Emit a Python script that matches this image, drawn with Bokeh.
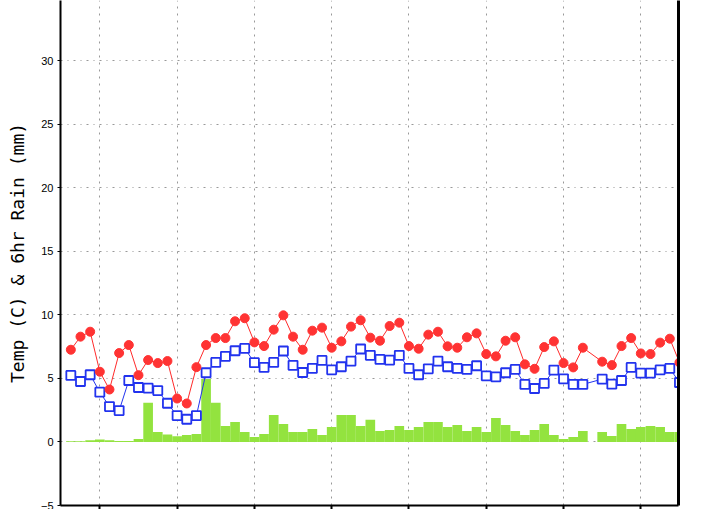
from bokeh.plotting import figure
from bokeh.models import Range1d, FixedTicker, LinearAxis
from bokeh.embed import file_html
from bokeh.resources import INLINE

# 3-hourly steps (index), one missing observation at step 54
steps = list(range(64))

temp = [7.26, 8.29, 8.68, 5.53, 4.13, 7.0, 7.63, 5.26, 6.45, 6.21, 6.37, 3.42, 3.03, 5.89, 7.63, 8.18,
        8.18, 9.5, 9.74, 7.84, 7.55, 8.84, 9.97, 8.29, 7.26, 8.76, 9.0, 7.42, 7.92, 9.08, 9.58, 8.21,
        7.97, 9.13, 9.39, 7.55, 7.34, 8.45, 8.68, 7.53, 7.42, 8.24, 8.55, 6.92, 6.74, 7.97, 8.24, 6.11,
        5.76, 7.47, 7.92, 6.21, 5.87, 7.42, None, 6.32, 6.05, 7.55, 8.18, 6.97, 6.92, 7.82, 8.13, 6.26]

dewpoint = [5.24, 4.76, 5.29, 3.92, 2.79, 2.47, 4.84, 4.29, 4.24, 4.05, 3.05, 2.08, 1.79, 2.08, 5.45, 6.26,
            6.74, 7.18, 7.37, 6.24, 5.87, 6.26, 7.16, 6.03, 5.47, 5.79, 6.42, 5.68, 5.92, 6.37, 7.32, 6.82,
            6.5, 6.45, 6.82, 5.79, 5.29, 5.76, 6.37, 5.92, 5.79, 5.71, 6.0, 5.21, 5.13, 5.45, 5.71, 4.53,
            4.21, 4.61, 5.66, 4.97, 4.53, 4.53, None, 4.95, 4.55, 4.84, 5.87, 5.42, 5.42, 5.68, 5.79, 4.68]

rain6h = [0.05, 0.05, 0.13, 0.2, 0.13, 0.08, 0.08, 0.24, 3.08, 0.79, 0.58, 0.45, 0.55, 0.63, 4.95, 3.08,
          1.26, 1.58, 0.79, 0.39, 0.63, 2.13, 1.42, 0.79, 0.79, 1.03, 0.55, 1.18, 2.13, 2.13, 1.26, 1.74,
          0.87, 0.95, 1.26, 0.95, 1.18, 1.58, 1.58, 1.18, 1.34, 0.87, 1.18, 0.79, 1.89, 1.34, 0.87, 0.55,
          0.95, 1.42, 0.55, 0.24, 0.39, 0.87, None, 0.79, 0.47, 1.42, 1.03, 1.18, 1.26, 1.18, 0.79, 0.79]

y_ticks = [-5, 0, 5, 10, 15, 20, 25, 30, 35]
day_ticks = [3, 11, 19, 27, 35, 43, 51, 59]


def valid(xs, ys):
    pairs = [(x, y) for x, y in zip(xs, ys) if y is not None]
    return [q[0] for q in pairs], [q[1] for q in pairs]


p = figure(width=719, height=509, output_backend="svg", toolbar_location=None,
           x_range=Range1d(-1.07, 62.9), y_range=Range1d(-5, 34.75),
           min_border_left=60, min_border_right=41, min_border_top=0, min_border_bottom=4)

p.outline_line_color = None
p.background_fill_color = "white"
p.border_fill_color = "white"

# grid
p.xgrid.grid_line_color = "#999999"
p.xgrid.grid_line_dash = "2 5"
p.ygrid.grid_line_color = "#999999"
p.ygrid.grid_line_dash = "2 5 1 5"
p.xgrid.ticker = FixedTicker(ticks=day_ticks)
p.ygrid.ticker = FixedTicker(ticks=y_ticks)

# y axis
ya = p.yaxis[0]
ya.ticker = FixedTicker(ticks=y_ticks)
ya.axis_label = "Temp (C) & 6hr Rain (mm)"
ya.axis_label_text_font = "DejaVu Sans Mono"
ya.axis_label_text_font_size = "18px"
ya.axis_label_text_font_style = "normal"
ya.axis_label_text_color = "black"
ya.axis_label_standoff = 10
ya.major_label_text_font = "Liberation Sans"
ya.major_label_text_font_size = "11px"
ya.major_label_text_color = "black"
ya.major_label_standoff = 4
ya.axis_line_width = 2
ya.axis_line_color = "black"
ya.major_tick_out = 3
ya.major_tick_in = 0
ya.major_tick_line_color = "black"
ya.minor_tick_line_color = None

# x axis (tick labels fall outside the picture in the reference)
xa = p.xaxis[0]
xa.ticker = FixedTicker(ticks=day_ticks)
xa.major_label_overrides = {t: "" for t in day_ticks}
xa.major_label_standoff = 0
xa.axis_line_width = 2
xa.axis_line_color = "black"
xa.major_tick_out = 4
xa.major_tick_in = 0
xa.major_tick_line_width = 2
xa.minor_tick_line_color = None

# right frame line
ra = LinearAxis(ticker=FixedTicker(ticks=[]),
                axis_line_width=3, axis_line_color="black",
                major_tick_line_color=None, minor_tick_line_color=None)
p.add_layout(ra, "right")

# rain bars
rx, ry = valid(steps, rain6h)
p.vbar(x=rx, top=ry, bottom=0, width=1.0, fill_color="#93e33f", line_color=None)

# dewpoint (blue squares)
bx, by = valid(steps, dewpoint)
p.line(bx, by, line_color="#2233ee", line_width=1)
p.scatter(bx, by, marker="square", size=9, fill_color="white", line_color="#2233ee", line_width=1.8)

# temperature (red dots)
tx, ty = valid(steps, temp)
p.line(tx, ty, line_color="#ff2a2a", line_width=1)
p.scatter(tx, ty, marker="circle", size=9, fill_color="#ff3333", line_color="#ff3333")

open("out.html", "w").write(file_html(p, INLINE))
